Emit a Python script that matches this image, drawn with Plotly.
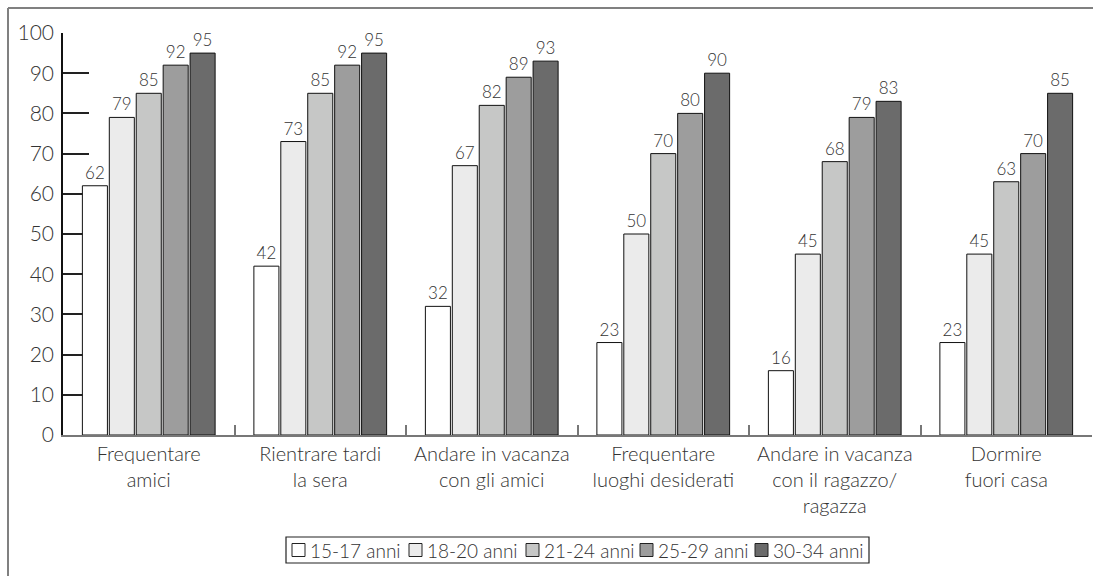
import plotly.graph_objects as go

categories = [
    "Frequentare<br>amici",
    "Rientrare tardi<br>la sera",
    "Andare in vacanza<br>con gli amici",
    "Frequentare<br>luoghi desiderati",
    "Andare in vacanza<br>con il ragazzo/<br>ragazza",
    "Dormire<br>fuori casa",
]
series_names = ["15-17 anni", "18-20 anni", "21-24 anni", "25-29 anni", "30-34 anni"]
v_15_17 = [62, 42, 32, 23, 16, 23]
v_18_20 = [79, 73, 67, 50, 45, 45]
v_21_24 = [85, 85, 82, 70, 68, 63]
v_25_29 = [92, 92, 89, 80, 79, 70]
v_30_34 = [95, 95, 93, 90, 83, 85]
colors = ["#ffffff", "#ebebeb", "#c6c7c6", "#9d9d9d", "#6b6b6b"]
y_ticks = list(range(0, 101, 10))

FONT = "Lato"
TXT = "#333333"

# page geometry (body margin removed below, so figure px == page px)
FIG_W, FIG_H = 1093, 576
PX0, PX1 = 63, 1092   # plot area x
PY0, PY1 = 33, 435    # plot area y (top, bottom)


def px(x):
    return (x - PX0) / (PX1 - PX0)


def py(y):
    return (PY1 - y) / (PY1 - PY0)


fig = go.Figure()
for name, vals, col in zip(series_names, [v_15_17, v_18_20, v_21_24, v_25_29, v_30_34], colors):
    fig.add_trace(go.Bar(
        x=categories, y=vals, name=name,
        marker=dict(color=col, line=dict(color="#111111", width=1)),
        text=[str(v) for v in vals], textposition="outside",
        textfont=dict(family=FONT, size=17, color=TXT, weight=300),
        cliponaxis=False, showlegend=False,
    ))

fig.update_layout(
    width=FIG_W, height=FIG_H,
    margin=dict(l=PX0, r=FIG_W - PX1, t=PY0, b=FIG_H - PY1),
    paper_bgcolor="white", plot_bgcolor="white",
    barmode="group", bargap=0.215, bargroupgap=0.07,
    font=dict(family=FONT, color=TXT, weight=300),
    showlegend=False,
    xaxis=dict(
        type="category", showline=True, linecolor="#777777", linewidth=2,
        ticks="inside", tickson="boundaries", ticklen=10, tickcolor="#777777", tickwidth=2,
        tickfont=dict(family=FONT, size=20, color=TXT, weight=300),
        tickangle=0, automargin=False,
        showgrid=False, layer="below traces",
    ),
    yaxis=dict(
        range=[0, 100], tickvals=y_ticks, showline=True, linecolor="#111111", linewidth=1.5,
        ticks="inside", ticklen=26, tickcolor="#222222", tickwidth=1.5,
        tickfont=dict(family=FONT, size=21, color=TXT, weight=300),
        automargin=False,
        showgrid=False, zeroline=False, layer="below traces", ticklabelstandoff=3,
    ),
)

# outer frame (top and left edges visible in the reference)
fig.add_shape(type="line", xref="paper", yref="paper",
              x0=px(8), x1=px(1100), y0=py(8), y1=py(8),
              line=dict(color="#808080", width=2))
fig.add_shape(type="line", xref="paper", yref="paper",
              x0=px(8), x1=px(8), y0=py(8), y1=py(580),
              line=dict(color="#808080", width=2))

# legend box with swatches built from the series lists
fig.add_shape(type="rect", xref="paper", yref="paper",
              x0=px(286), x1=px(869), y0=py(537), y1=py(563),
              line=dict(color="#222222", width=1.2), fillcolor="white")
sw_left = [292, 409, 526, 640, 755]
for name, col, x0 in zip(series_names, colors, sw_left):
    fig.add_shape(type="rect", xref="paper", yref="paper",
                  x0=px(x0), x1=px(x0 + 13), y0=py(543.5), y1=py(556.5),
                  line=dict(color="#222222", width=1), fillcolor=col)
    fig.add_annotation(xref="paper", yref="paper", x=px(x0 + 16), y=py(550),
                       xanchor="left", yanchor="middle", showarrow=False,
                       text=name, font=dict(family=FONT, size=19, color=TXT, weight=300))

fig.write_html(
    "out.html",
    config={"displayModeBar": False},
    post_script="document.body.style.margin='0';document.body.style.overflow='hidden';",
)
